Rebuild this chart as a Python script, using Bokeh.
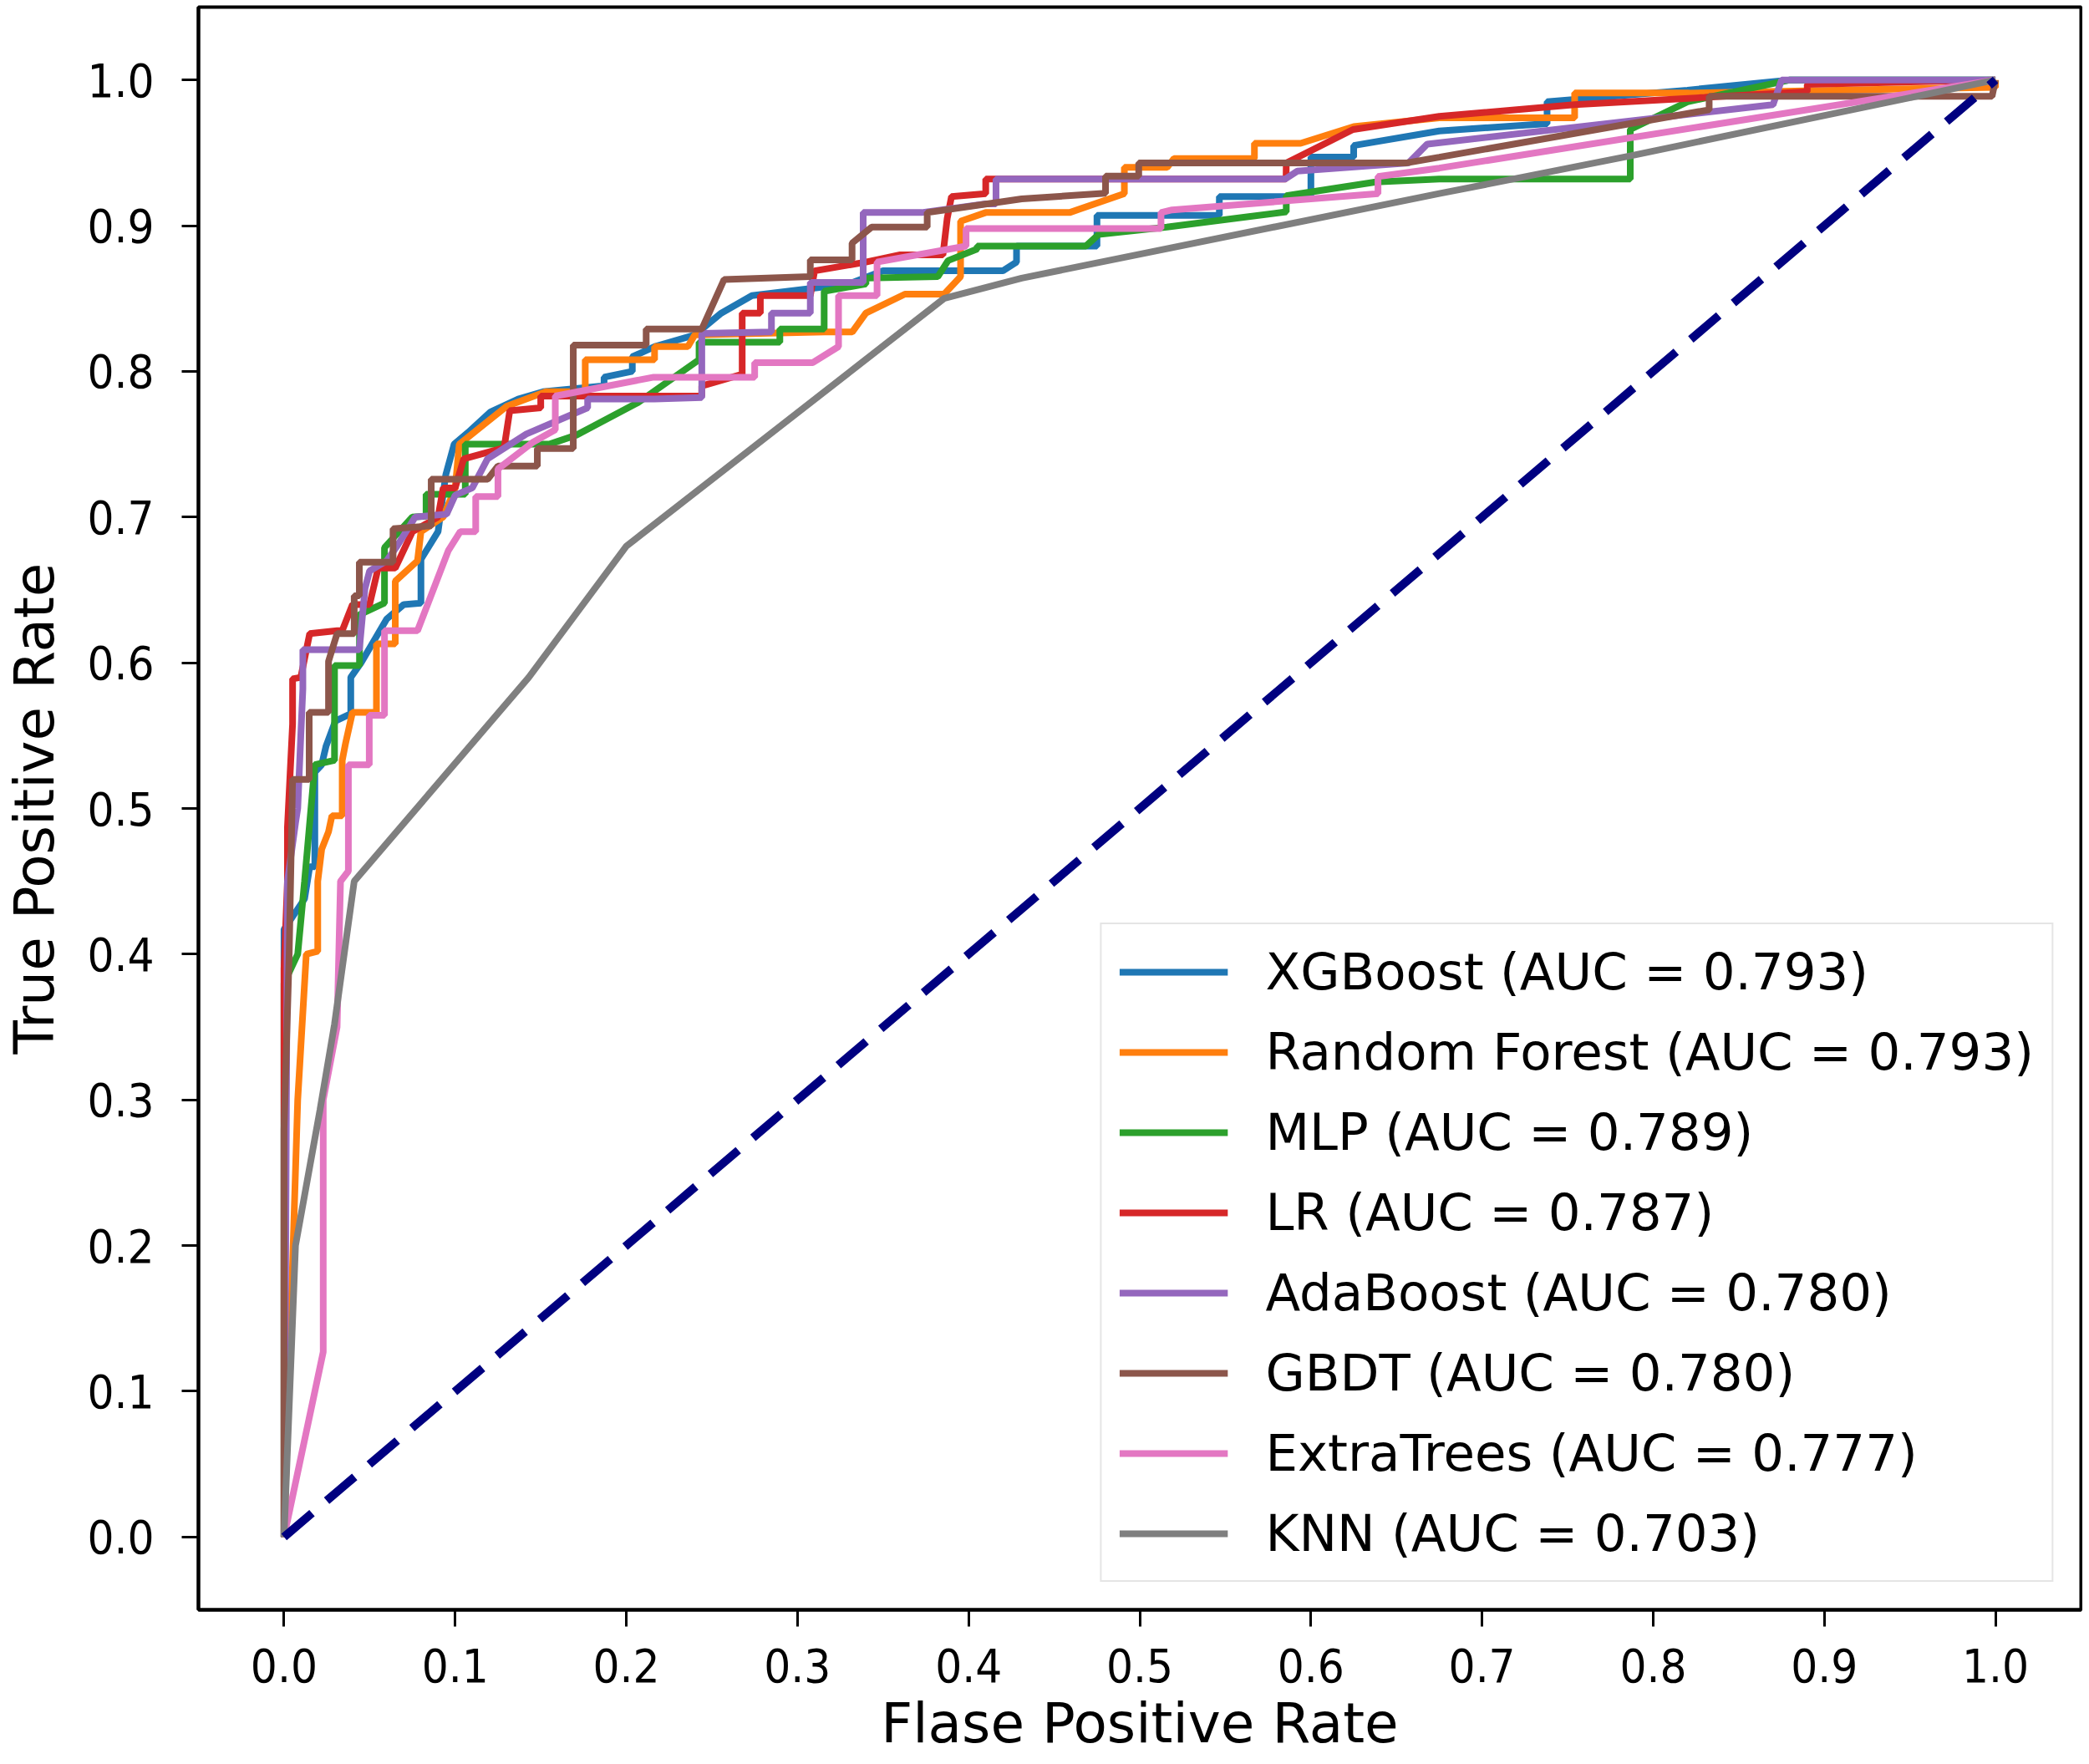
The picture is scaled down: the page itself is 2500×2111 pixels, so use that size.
from bokeh.plotting import figure
from bokeh.models import Range1d, FixedTicker
from bokeh.embed import file_html
from bokeh.resources import INLINE

# axis ticks
tick_values = [0.0, 0.1, 0.2, 0.3, 0.4, 0.5, 0.6, 0.7, 0.8, 0.9, 1.0]
tick_labels = ["0.0", "0.1", "0.2", "0.3", "0.4", "0.5", "0.6", "0.7", "0.8", "0.9", "1.0"]

model_names = ["XGBoost", "Random Forest", "MLP", "LR", "AdaBoost", "GBDT", "ExtraTrees", "KNN"]
auc_values = [0.793, 0.793, 0.789, 0.787, 0.780, 0.780, 0.777, 0.703]
colors = ["#1f77b4", "#ff7f0e", "#2ca02c", "#d62728", "#9467bd", "#8c564b", "#e377c2", "#7f7f7f"]

# ROC points
xgb_fpr = [0, 0, 0.012, 0.015, 0.018, 0.018, 0.022, 0.0246, 0.030, 0.039, 0.039, 0.045, 0.060, 0.070, 0.080,
           0.080, 0.090, 0.0945, 0.0994, 0.1075, 0.1205, 0.1368, 0.1514, 0.187, 0.187, 0.2035, 0.2035, 0.2165,
           0.240, 0.2555, 0.2734, 0.330, 0.350, 0.420, 0.428, 0.428, 0.475, 0.475, 0.5465, 0.5465, 0.600,
           0.600, 0.625, 0.625, 0.675, 0.738, 0.738, 0.820, 0.880, 1.0]
xgb_tpr = [0, 0.417, 0.438, 0.46, 0.46, 0.525, 0.53, 0.543, 0.56, 0.565, 0.59, 0.60, 0.63, 0.64, 0.641,
           0.671, 0.69, 0.729, 0.75, 0.758, 0.772, 0.781, 0.786, 0.79, 0.796, 0.80, 0.81, 0.817,
           0.825, 0.84, 0.852, 0.86, 0.869, 0.869, 0.875, 0.886, 0.886, 0.907, 0.907, 0.92, 0.92,
           0.947, 0.947, 0.955, 0.965, 0.97, 0.985, 0.993, 1.0, 1.0]

rf_fpr = [0, 0.004, 0.008, 0.013, 0.0197, 0.0197, 0.022, 0.026, 0.028, 0.034, 0.034, 0.036, 0.040, 0.054,
          0.054, 0.065, 0.065, 0.078, 0.080, 0.093, 0.100, 0.1024, 0.130, 0.153, 0.176, 0.176, 0.2165,
          0.2165, 0.236, 0.240, 0.316, 0.332, 0.340, 0.3628, 0.3857, 0.3953, 0.3953, 0.410, 0.459, 0.491,
          0.491, 0.516, 0.520, 0.567, 0.567, 0.594, 0.625, 0.675, 0.7541, 0.7541, 0.821, 1.0, 1.0]
rf_tpr = [0, 0.15, 0.30, 0.40, 0.402, 0.45, 0.472, 0.484, 0.495, 0.495, 0.533, 0.545, 0.566, 0.566,
          0.613, 0.613, 0.656, 0.67, 0.69, 0.70, 0.72, 0.75, 0.776, 0.786, 0.786, 0.808, 0.808,
          0.817, 0.817, 0.825, 0.827, 0.827, 0.84, 0.853, 0.853, 0.865, 0.903, 0.909, 0.909, 0.922,
          0.94, 0.94, 0.946, 0.946, 0.9565, 0.9565, 0.968, 0.974, 0.974, 0.991, 0.991, 0.995, 1.0]

mlp_fpr = [0, 0, 0.008, 0.012, 0.018, 0.0295, 0.0295, 0.0441, 0.0441, 0.0587, 0.0587, 0.075, 0.083, 0.083,
           0.1059, 0.1059, 0.1286, 0.155, 0.1709, 0.2067, 0.2425, 0.2425, 0.2897, 0.2897, 0.3156, 0.3156,
           0.340, 0.340, 0.382, 0.388, 0.405, 0.405, 0.4685, 0.476, 0.5158, 0.5856, 0.5856, 0.638, 0.675,
           0.7866, 0.7866, 0.820, 0.880, 1.0]
mlp_tpr = [0, 0.38, 0.40, 0.45, 0.53, 0.533, 0.598, 0.598, 0.633, 0.641, 0.679, 0.70, 0.7006, 0.7157,
           0.7157, 0.75, 0.75, 0.75, 0.7563, 0.7785, 0.808, 0.82, 0.82, 0.829, 0.829, 0.855,
           0.86, 0.864, 0.865, 0.876, 0.884, 0.886, 0.886, 0.894, 0.899, 0.9095, 0.9205, 0.93, 0.932,
           0.932, 0.966, 0.985, 1.0, 1.0]

lr_fpr = [0, 0, 0.002, 0.002, 0.005, 0.005, 0.0098, 0.015, 0.031, 0.034, 0.040, 0.050, 0.055, 0.065, 0.075,
          0.090, 0.093, 0.100, 0.105, 0.1286, 0.1319, 0.150, 0.150, 0.2441, 0.2441, 0.2677, 0.2677, 0.2783,
          0.2783, 0.3075, 0.310, 0.340, 0.360, 0.385, 0.3875, 0.390, 0.410, 0.410, 0.5855, 0.5856, 0.6246,
          0.675, 0.754, 0.830, 0.890, 0.890, 1.0]
lr_tpr = [0, 0.39, 0.45, 0.487, 0.558, 0.589, 0.59, 0.62, 0.622, 0.622, 0.64, 0.64, 0.665, 0.665, 0.69,
          0.70, 0.72, 0.72, 0.74, 0.7475, 0.773, 0.775, 0.783, 0.783, 0.79, 0.798, 0.84, 0.84,
          0.852, 0.852, 0.869, 0.875, 0.88, 0.88, 0.905, 0.92, 0.922, 0.932, 0.932, 0.943, 0.966,
          0.975, 0.983, 0.988, 0.992, 0.997, 1.0]

ada_fpr = [0, 0.001, 0.002, 0.0067, 0.008, 0.0098, 0.011, 0.011, 0.044, 0.0473, 0.050, 0.060, 0.066, 0.0766,
           0.095, 0.100, 0.110, 0.1189, 0.1416, 0.1774, 0.1774, 0.2165, 0.2441, 0.2441, 0.2848, 0.2848,
           0.3075, 0.3075, 0.3384, 0.3384, 0.3726, 0.410, 0.416, 0.416, 0.585, 0.592, 0.657, 0.668, 0.870,
           0.875, 1.0]
ada_tpr = [0, 0.20, 0.45, 0.49, 0.50, 0.55, 0.582, 0.609, 0.609, 0.651, 0.663, 0.67, 0.68, 0.70,
           0.702, 0.715, 0.72, 0.74, 0.757, 0.775, 0.781, 0.781, 0.782, 0.826, 0.827, 0.84,
           0.84, 0.861, 0.861, 0.909, 0.909, 0.915, 0.915, 0.932, 0.932, 0.9374, 0.943, 0.956, 0.983,
           1.0, 1.0]

gbdt_fpr = [0, 0, 0.003, 0.005, 0.0147, 0.0147, 0.026, 0.026, 0.031, 0.041, 0.041, 0.044, 0.044, 0.0637,
            0.0637, 0.086, 0.086, 0.119, 0.125, 0.148, 0.148, 0.169, 0.169, 0.2116, 0.2116, 0.2441, 0.2571,
            0.3075, 0.3075, 0.3319, 0.3319, 0.3433, 0.3758, 0.3758, 0.431, 0.480, 0.480, 0.4994, 0.4994,
            0.6554, 0.675, 0.8327, 0.8327, 0.998, 1.0]
gbdt_tpr = [0, 0.28, 0.40, 0.52, 0.52, 0.566, 0.566, 0.601, 0.62, 0.62, 0.646, 0.646, 0.669, 0.669,
            0.692, 0.694, 0.726, 0.726, 0.735, 0.735, 0.747, 0.747, 0.818, 0.818, 0.829, 0.829, 0.863,
            0.865, 0.8765, 0.8765, 0.888, 0.899, 0.899, 0.909, 0.9184, 0.9222, 0.934, 0.934, 0.943,
            0.943, 0.947, 0.9795, 0.9888, 0.9888, 1.0]

et_fpr = [0, 0.0229, 0.0229, 0.031, 0.033, 0.0376, 0.0376, 0.0498, 0.0498, 0.0587, 0.0587, 0.078, 0.096,
          0.103, 0.112, 0.112, 0.125, 0.125, 0.145, 0.1585, 0.1585, 0.216, 0.275, 0.275, 0.309, 0.324,
          0.324, 0.3465, 0.3465, 0.3985, 0.3985, 0.5124, 0.5124, 0.5189, 0.6392, 0.6392, 0.675, 1.0]
et_tpr = [0, 0.127, 0.30, 0.35, 0.45, 0.457, 0.53, 0.53, 0.564, 0.564, 0.622, 0.622, 0.677,
          0.69, 0.69, 0.714, 0.714, 0.733, 0.751, 0.76, 0.783, 0.796, 0.796, 0.806, 0.806, 0.817,
          0.852, 0.852, 0.875, 0.886, 0.898, 0.898, 0.909, 0.9108, 0.922, 0.9337, 0.9395, 1.0]

knn_fpr = [0, 0.0067, 0.021, 0.0295, 0.041, 0.143, 0.200, 0.3856, 0.431, 0.675, 0.787, 1.0]
knn_tpr = [0, 0.20, 0.293, 0.352, 0.45, 0.59, 0.68, 0.85, 0.864, 0.922, 0.948, 1.0]

all_fpr = [xgb_fpr, rf_fpr, mlp_fpr, lr_fpr, ada_fpr, gbdt_fpr, et_fpr, knn_fpr]
all_tpr = [xgb_tpr, rf_tpr, mlp_tpr, lr_tpr, ada_tpr, gbdt_tpr, et_tpr, knn_tpr]

chance = [0, 1]

p = figure(width=2492, height=2103, x_range=Range1d(-0.05, 1.05), y_range=Range1d(-0.05, 1.05),
           output_backend="svg", toolbar_location=None,
           min_border_left=228, min_border_right=2, min_border_top=8, min_border_bottom=174)

for name, auc, col, fpr, tpr in zip(model_names, auc_values, colors, all_fpr, all_tpr):
    p.line(fpr, tpr, line_color=col, line_width=8, legend_label=f"{name} (AUC = {auc:.3f})")

p.line(chance, chance, line_color="navy", line_width=10, line_dash="44 23")

p.xgrid.visible = False
p.ygrid.visible = False
p.outline_line_color = "black"
p.outline_line_width = 4

for ax in (p.xaxis, p.yaxis):
    ax.ticker = FixedTicker(ticks=tick_values)
    ax.major_label_overrides = dict(zip(tick_values, tick_labels))
    ax.minor_tick_line_color = None
    ax.major_tick_in = 0
    ax.major_tick_out = 20
    ax.major_tick_line_width = 3
    ax.axis_line_width = 4
    ax.major_label_text_font = "DejaVu Sans Condensed"
    ax.major_label_text_font_size = "56px"
    ax.major_label_text_color = "black"
    ax.axis_label_text_font = "DejaVu Sans"
    ax.axis_label_text_font_size = "66px"
    ax.axis_label_text_font_style = "normal"
    ax.axis_label_text_color = "black"

p.xaxis.axis_label = "Flase Positive Rate"
p.yaxis.axis_label = "True Positive Rate"
p.xaxis.axis_label_text_line_height = 0.75
p.xaxis.major_label_standoff = 26
p.xaxis.axis_label_standoff = 8
p.yaxis.major_label_standoff = 33
p.yaxis.axis_label_standoff = 21

p.legend.location = "bottom_right"
p.legend.margin = 33
p.legend.padding = 21
p.legend.spacing = 25
p.legend.glyph_width = 130
p.legend.glyph_height = 70
p.legend.label_height = 70
p.legend.label_standoff = 45
p.legend.label_text_font = "DejaVu Sans"
p.legend.label_text_font_size = "61px"
p.legend.label_text_color = "black"
p.legend.border_line_color = "#cccccc"
p.legend.border_line_width = 2
p.legend.background_fill_alpha = 0.8

open("out.html", "w").write(file_html(p, INLINE))
